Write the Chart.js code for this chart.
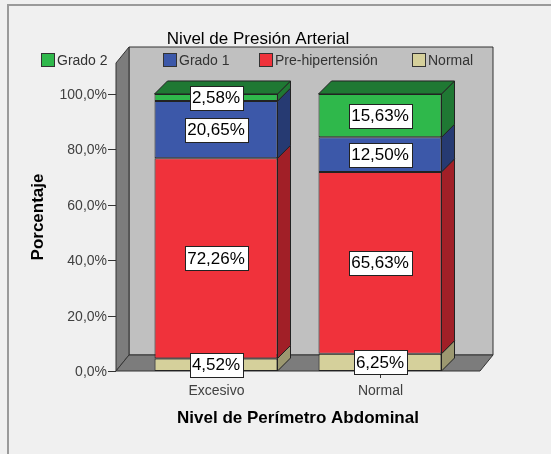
<!DOCTYPE html>
<html>
<head>
<meta charset="utf-8">
<script src="https://cdn.jsdelivr.net/npm/chart.js@4"></script>
<style>
    html, body { margin: 0; padding: 0; background: #f0f0f0; }
    #wrap { position: relative; width: 551px; height: 454px; }
</style>
</head>
<body>
<div id="wrap"><canvas id="presionChart" width="551" height="454"></canvas></div>
<script>
// categories and series (percent of each group)
const categories = ['Excesivo', 'Normal'];
const normalVals = [4.52, 6.25];
const preVals = [72.26, 65.63];
const grado1Vals = [20.65, 12.50];
const grado2Vals = [2.58, 15.63];
const yTicks = [0, 20, 40, 60, 80, 100];

const FONT = "'Liberation Sans', Arial, sans-serif";
const DX = 13, DY = -13;        // bar depth
const WDX = 13, WDY = -16;      // wall depth

function fmt(v) {
    return v.toFixed(2).replace('.', ',') + '%';
}

function poly(ctx, pts, fill, stroke) {
    ctx.beginPath();
    ctx.moveTo(pts[0][0], pts[0][1]);
    for (let i = 1; i < pts.length; i++) ctx.lineTo(pts[i][0], pts[i][1]);
    ctx.closePath();
    ctx.fillStyle = fill;
    ctx.fill();
    ctx.strokeStyle = stroke;
    ctx.lineWidth = 1;
    ctx.stroke();
}

const frame3d = {
    id: 'frame3d',
    beforeDatasetsDraw(chart) {
        const ctx = chart.ctx;
        const area = chart.chartArea;
        const y = chart.scales.y;
        const x0 = area.left - 18, x1 = area.right + 18;
        const bottom = y.getPixelForValue(0);
        const top = area.top - 31;

        ctx.save();
        // outer frame
        ctx.strokeStyle = '#9a9a9a';
        ctx.lineWidth = 2;
        ctx.beginPath();
        ctx.moveTo(8, 460); ctx.lineTo(8, 5); ctx.lineTo(560, 5);
        ctx.stroke();

        // walls and floor
        poly(ctx, [[x0 + WDX, top + WDY], [x1 + WDX, top + WDY], [x1 + WDX, bottom + WDY], [x0 + WDX, bottom + WDY]], '#c0c0c0', '#333');
        poly(ctx, [[x0, top], [x0 + WDX, top + WDY], [x0 + WDX, bottom + WDY], [x0, bottom]], '#7c7c7c', '#333');
        poly(ctx, [[x0, bottom], [x0 + WDX, bottom + WDY], [x1 + WDX, bottom + WDY], [x1, bottom]], '#7c7c7c', '#333');

        // y axis ticks and labels
        ctx.font = '14px ' + FONT;
        ctx.fillStyle = '#404040';
        ctx.textAlign = 'right';
        ctx.textBaseline = 'middle';
        ctx.strokeStyle = '#333';
        ctx.lineWidth = 1;
        yTicks.forEach(t => {
            const py = Math.round(y.getPixelForValue(t)) + 0.5;
            ctx.beginPath();
            ctx.moveTo(x0 - 8, py); ctx.lineTo(x0, py);
            ctx.stroke();
            ctx.fillText(t.toFixed(1).replace('.', ',') + '%', x0 - 9, py + 1);
        });

        // x ticks and labels
        const xs = chart.scales.x;
        ctx.textAlign = 'center';
        categories.forEach((c, i) => {
            const px = Math.round(xs.getPixelForValue(i)) + 0.5;
            ctx.beginPath();
            ctx.moveTo(px, bottom); ctx.lineTo(px, bottom + 7);
            ctx.stroke();
            ctx.fillText(c, px, bottom + 20);
        });

        // 3D sides and tops of the bars
        const n = chart.data.datasets.length;
        chart.data.datasets.forEach((ds, di) => {
            chart.getDatasetMeta(di).data.forEach(bar => {
                const p = bar.getProps(['x', 'y', 'base', 'width'], true);
                const l = p.x - p.width / 2, r = p.x + p.width / 2;
                poly(ctx, [[r, p.y], [r + DX, p.y + DY], [r + DX, p.base + DY], [r, p.base]], ds.sideColor, '#222');
                if (di === n - 1) {
                    poly(ctx, [[l, p.y], [l + DX, p.y + DY], [r + DX, p.y + DY], [r, p.y]], ds.sideColor, '#222');
                }
            });
        });

        // titles
        ctx.fillStyle = '#000';
        ctx.textAlign = 'center';
        ctx.font = '17px ' + FONT;
        ctx.fillText('Nivel de Presión Arterial', 258, 39);
        ctx.font = 'bold 17px ' + FONT;
        ctx.fillText('Nivel de Perímetro Abdominal', 298, 418);
        ctx.save();
        ctx.translate(38, 217);
        ctx.rotate(-Math.PI / 2);
        ctx.fillText('Porcentaje', 0, 0);
        ctx.restore();

        // legend (reverse of stack order)
        const legendX = [41, 163, 259, 412];
        ctx.font = '14px ' + FONT;
        ctx.textAlign = 'left';
        ctx.fillStyle = '#333';
        chart.data.datasets.slice().reverse().forEach((ds, i) => {
            const bx = legendX[i];
            ctx.fillStyle = ds.backgroundColor;
            ctx.fillRect(bx + 0.5, 53.5, 13, 13);
            ctx.strokeStyle = '#333';
            ctx.strokeRect(bx + 0.5, 53.5, 13, 13);
            ctx.fillStyle = '#333';
            ctx.fillText(ds.label, bx + 16, 61);
        });
        ctx.restore();
    },
    afterDatasetsDraw(chart) {
        const ctx = chart.ctx;
        ctx.save();
        ctx.font = '17px ' + FONT;
        ctx.textAlign = 'center';
        ctx.textBaseline = 'middle';
        chart.data.datasets.forEach((ds, di) => {
            chart.getDatasetMeta(di).data.forEach((bar, i) => {
                const p = bar.getProps(['x', 'y', 'base'], true);
                const txt = fmt(ds.data[i]);
                const w = Math.round(ctx.measureText(txt).width) + 5;
                const h = 24;
                const cy = (p.y + p.base) / 2;
                const bx = Math.round(p.x - w / 2) + 0.5, by = Math.round(cy - h / 2) + 0.5;
                ctx.fillStyle = '#fff';
                ctx.fillRect(bx, by, w, h);
                ctx.strokeStyle = '#222';
                ctx.lineWidth = 1;
                ctx.strokeRect(bx, by, w, h);
                ctx.fillStyle = '#000';
                ctx.fillText(txt, p.x, cy + 1);
            });
        });
        ctx.restore();
    }
};

const ctx = document.getElementById('presionChart').getContext('2d');
new Chart(ctx, {
    type: 'bar',
    data: {
        labels: categories,
        datasets: [
            { label: 'Normal', data: normalVals, backgroundColor: '#d5d09b', sideColor: '#9c9870' },
            { label: 'Pre-hipertensión', data: preVals, backgroundColor: '#f0323b', sideColor: '#a11f27' },
            { label: 'Grado 1', data: grado1Vals, backgroundColor: '#3c58a9', sideColor: '#263a72' },
            { label: 'Grado 2', data: grado2Vals, backgroundColor: '#2fb84b', sideColor: '#1f7833' }
        ].map(ds => Object.assign(ds, {
            borderColor: '#222',
            borderWidth: 1,
            borderSkipped: false,
            barPercentage: 0.75,
            categoryPercentage: 1
        }))
    },
    options: {
        responsive: false,
        animation: false,
        layout: { padding: { left: 134, right: 89, top: 94, bottom: 83 } },
        plugins: {
            legend: { display: false },
            tooltip: { enabled: false }
        },
        scales: {
            x: { stacked: true, display: false },
            y: { stacked: true, display: false, min: 0, max: 100 }
        }
    },
    plugins: [frame3d]
});
</script>
</body>
</html>
